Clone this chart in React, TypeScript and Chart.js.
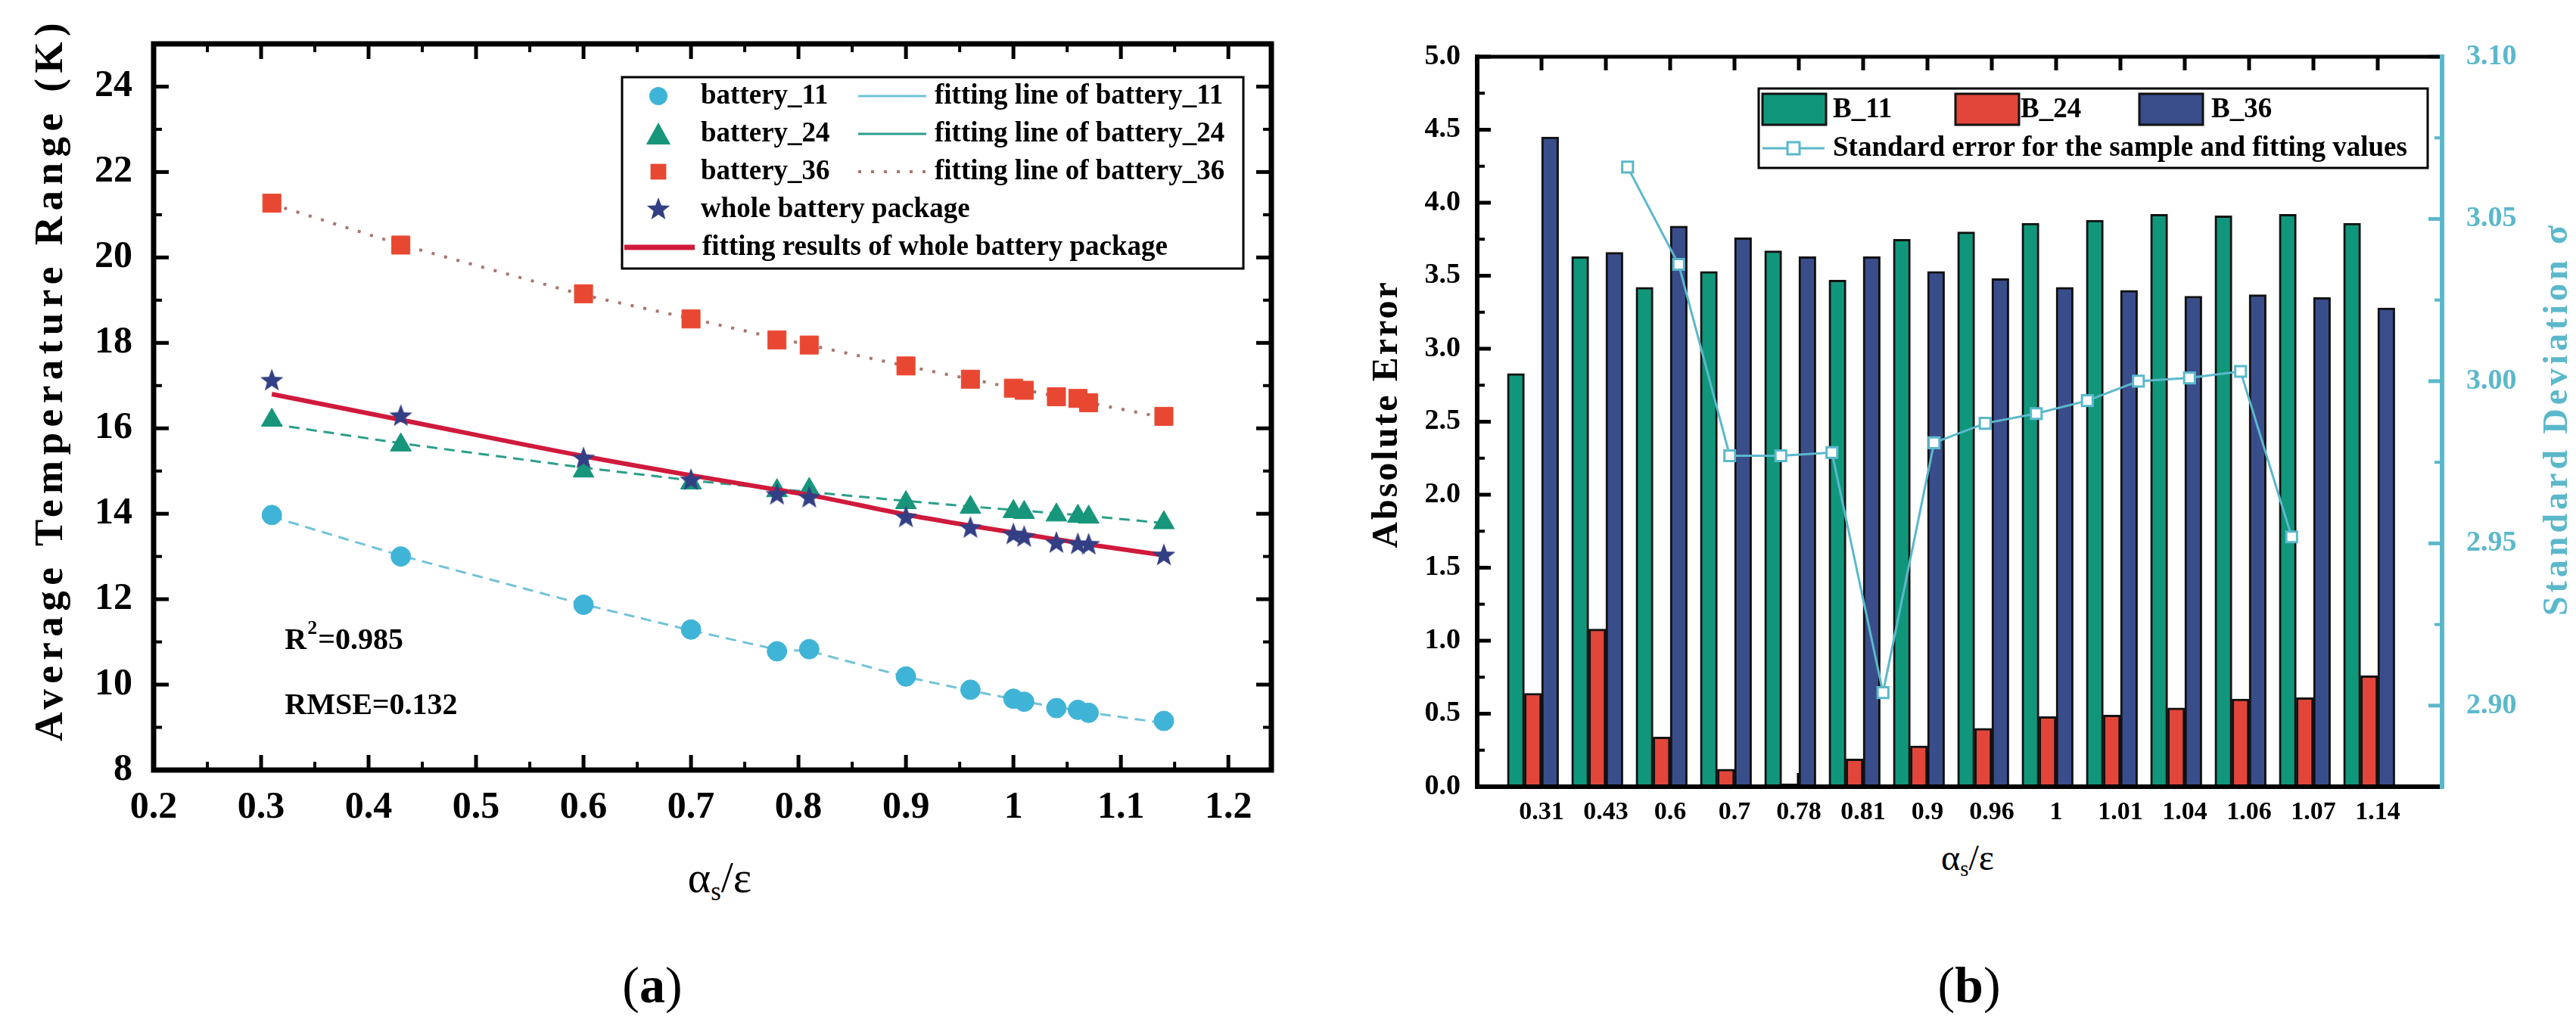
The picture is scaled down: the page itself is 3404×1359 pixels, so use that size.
import { useEffect, useRef } from "react"
import { Chart, registerables, type ChartConfiguration, type Plugin } from "chart.js"

Chart.register(...registerables)

const SERIF = '"Liberation Serif", "Times New Roman", Times, serif'
Chart.defaults.font.family = SERIF
Chart.defaults.color = "#000"

// αs/ε values shared by both panels
const alphaEps = [0.31, 0.43, 0.6, 0.7, 0.78, 0.81, 0.9, 0.96, 1, 1.01, 1.04, 1.06, 1.07, 1.14]
const alphaLabels = ["0.31", "0.43", "0.6", "0.7", "0.78", "0.81", "0.9", "0.96", "1", "1.01", "1.04", "1.06", "1.07", "1.14"]

// (a) average temperature range (K)
const battery11 = [13.97, 13.0, 11.87, 11.29, 10.78, 10.83, 10.19, 9.88, 9.67, 9.6, 9.45, 9.41, 9.34, 9.15]
const battery24 = [16.19, 15.61, 15.0, 14.72, 14.54, 14.57, 14.26, 14.15, 14.05, 14.03, 13.97, 13.94, 13.92, 13.79]
const battery36 = [21.27, 20.29, 19.15, 18.56, 18.07, 17.95, 17.46, 17.15, 16.94, 16.89, 16.74, 16.7, 16.6, 16.28]
const wholePack = [17.14, 16.31, 15.32, 14.81, 14.47, 14.4, 13.94, 13.69, 13.54, 13.48, 13.34, 13.31, 13.3, 13.05]
const fit11 = [13.93, 13.02, 11.88, 11.27, 10.82, 10.79, 10.18, 9.86, 9.66, 9.61, 9.47, 9.4, 9.35, 9.1]
const fit24 = [16.1, 15.65, 15.08, 14.78, 14.58, 14.51, 14.3, 14.17, 14.09, 14.07, 14.01, 13.97, 13.95, 13.78]
const fit36 = [21.25, 20.3, 19.12, 18.57, 18.11, 17.95, 17.46, 17.15, 16.95, 16.9, 16.75, 16.65, 16.6, 16.25]
const wholeFit = [16.8, 16.2, 15.35, 14.9, 14.56, 14.44, 13.98, 13.72, 13.56, 13.52, 13.4, 13.32, 13.28, 13.03]
const xTicksA = [0.2, 0.3, 0.4, 0.5, 0.6, 0.7, 0.8, 0.9, 1, 1.1, 1.2]
const yTicksA = [8, 10, 12, 14, 16, 18, 20, 22, 24]

// (b) absolute error per battery and standard deviation
const absErr11 = [2.83, 3.63, 3.42, 3.53, 3.67, 3.47, 3.75, 3.8, 3.86, 3.88, 3.92, 3.91, 3.92, 3.86]
const absErr24 = [0.64, 1.08, 0.34, 0.12, 0.02, 0.19, 0.28, 0.4, 0.48, 0.49, 0.54, 0.6, 0.61, 0.76]
const absErr36 = [4.45, 3.66, 3.84, 3.76, 3.63, 3.63, 3.53, 3.48, 3.42, 3.4, 3.36, 3.37, 3.35, 3.28]
const stdError = [3.066, 3.036, 2.977, 2.977, 2.978, 2.904, 2.981, 2.987, 2.99, 2.994, 3.0, 3.001, 3.003, 2.952]
const yTicksB = [0, 0.5, 1, 1.5, 2, 2.5, 3, 3.5, 4, 4.5, 5]
const y1TicksB = [2.9, 2.95, 3.0, 3.05, 3.1]

const C11 = "#40B4D6"
const C24 = "#17967C"
const C36 = "#E84832"
const CWHOLE = "#333F84"
const CFIT11 = "#72C3D8"
const CFIT24 = "#2C9E8A"
const CFIT36 = "#A8776E"
const CRED = "#D01A3C"
const BAR11 = "#10977B"
const BAR24 = "#E2463A"
const BAR36 = "#394D8B"
const CYAN = "#5BB8CB"

const pts = (ys: number[]) => ys.map((y, i) => ({ x: alphaEps[i], y }))
const mids = (v: number[]) => v.slice(1).map((b, i) => (v[i] + b) / 2)

function starPath(ctx: CanvasRenderingContext2D, cx: number, cy: number, r: number) {
  ctx.beginPath()
  for (let i = 0; i < 10; i++) {
    const rr = i % 2 === 0 ? r : r * 0.42
    const ang = -Math.PI / 2 + (i * Math.PI) / 5
    const px = cx + rr * Math.cos(ang)
    const py = cy + rr * Math.sin(ang)
    if (i === 0) ctx.moveTo(px, py)
    else ctx.lineTo(px, py)
  }
  ctx.closePath()
}

function starImage(size: number, color: string) {
  const c = document.createElement("canvas")
  c.width = size
  c.height = size
  const g = c.getContext("2d")!
  starPath(g, size / 2, size / 2 + size * 0.05, size / 2)
  g.fillStyle = color
  g.fill()
  return c
}

function marker(ctx: CanvasRenderingContext2D, kind: string, cx: number, cy: number, r: number, color: string) {
  ctx.beginPath()
  if (kind === "circle") ctx.arc(cx, cy, r, 0, Math.PI * 2)
  else if (kind === "triangle") {
    ctx.moveTo(cx, cy - r)
    ctx.lineTo(cx + r * 0.95, cy + r * 0.7)
    ctx.lineTo(cx - r * 0.95, cy + r * 0.7)
    ctx.closePath()
  } else if (kind === "rect") ctx.rect(cx - r * 0.8, cy - r * 0.8, r * 1.6, r * 1.6)
  else starPath(ctx, cx, cy, r)
  ctx.fillStyle = color
  ctx.fill()
}

function seg(ctx: CanvasRenderingContext2D, x1: number, y1: number, x2: number, y2: number, w: number, color: string, dash: number[] = []) {
  ctx.beginPath()
  ctx.setLineDash(dash)
  ctx.lineWidth = w
  ctx.strokeStyle = color
  ctx.moveTo(x1, y1)
  ctx.lineTo(x2, y2)
  ctx.stroke()
  ctx.setLineDash([])
}

function vText(ctx: CanvasRenderingContext2D, text: string, cx: number, cy: number, font: string, color: string, spacing: number) {
  ctx.save()
  ctx.translate(cx, cy)
  ctx.rotate(-Math.PI / 2)
  ctx.font = font
  ctx.fillStyle = color
  ;(ctx as any).letterSpacing = spacing + "px"
  ctx.textAlign = "center"
  ctx.textBaseline = "middle"
  ctx.fillText(text, spacing / 2, 0)
  ctx.restore()
}

// frame, inward ticks, legend and texts of panel (a)
const panelA: Plugin<"scatter"> = {
  id: "panelA",
  afterDraw(chart) {
    const { ctx, chartArea: a } = chart
    const sx = chart.scales.x
    const sy = chart.scales.y
    ctx.save()
    xTicksA.forEach((v) => {
      const p = sx.getPixelForValue(v)
      seg(ctx, p, a.bottom, p, a.bottom - 20, 5, "#000")
      seg(ctx, p, a.top, p, a.top + 20, 5, "#000")
    })
    mids(xTicksA).forEach((v) => {
      const p = sx.getPixelForValue(v)
      seg(ctx, p, a.bottom, p, a.bottom - 11, 4, "#000")
      seg(ctx, p, a.top, p, a.top + 11, 4, "#000")
    })
    yTicksA.forEach((v) => {
      const p = sy.getPixelForValue(v)
      seg(ctx, a.left, p, a.left + 20, p, 5, "#000")
      seg(ctx, a.right, p, a.right - 20, p, 5, "#000")
    })
    mids(yTicksA).forEach((v) => {
      const p = sy.getPixelForValue(v)
      seg(ctx, a.left, p, a.left + 11, p, 4, "#000")
      seg(ctx, a.right, p, a.right - 11, p, 4, "#000")
    })
    ctx.lineWidth = 7
    ctx.strokeStyle = "#000"
    ctx.strokeRect(a.left, a.top, a.right - a.left, a.bottom - a.top)

    // legend
    ctx.fillStyle = "#fff"
    ctx.fillRect(822, 102, 821, 253)
    ctx.lineWidth = 3
    ctx.strokeStyle = "#000"
    ctx.strokeRect(822, 102, 821, 253)
    const rowY = (i: number) => 127 + i * 50
    marker(ctx, "circle", 870, rowY(0), 12, C11)
    marker(ctx, "triangle", 870, rowY(1) + 2, 17, C24)
    marker(ctx, "rect", 870, rowY(2), 13, C36)
    marker(ctx, "star", 870, rowY(3), 16, CWHOLE)
    seg(ctx, 1134, rowY(0), 1224, rowY(0), 3, CFIT11)
    seg(ctx, 1134, rowY(1), 1224, rowY(1), 3, CFIT24)
    seg(ctx, 1134, rowY(2), 1224, rowY(2), 4, CFIT36, [4, 13])
    seg(ctx, 825, rowY(4), 918, rowY(4), 7, CRED)
    ctx.font = `bold 37px ${SERIF}`
    ctx.fillStyle = "#000"
    ctx.textAlign = "left"
    ctx.textBaseline = "middle"
    ctx.fillText("battery_11", 926, rowY(0))
    ctx.fillText("battery_24", 926, rowY(1))
    ctx.fillText("battery_36", 926, rowY(2))
    ctx.fillText("whole battery package", 926, rowY(3))
    ctx.fillText("fitting results of whole battery package", 928, rowY(4))
    ctx.fillText("fitting line of battery_11", 1235, rowY(0))
    ctx.fillText("fitting line of battery_24", 1235, rowY(1))
    ctx.fillText("fitting line of battery_36", 1235, rowY(2))

    // fit statistics
    ctx.textBaseline = "alphabetic"
    const tx = sx.getPixelForValue(0.322)
    const ty = sy.getPixelForValue(10.83)
    ctx.font = `bold 40px ${SERIF}`
    ctx.fillText("R", tx, ty)
    const wR = ctx.measureText("R").width
    ctx.font = `bold 26px ${SERIF}`
    ctx.fillText("2", tx + wR + 1, ty - 20)
    const w2 = ctx.measureText("2").width
    ctx.font = `bold 40px ${SERIF}`
    ctx.fillText("=0.985", tx + wR + w2 + 2, ty)
    ctx.fillText("RMSE=0.132", tx, sy.getPixelForValue(9.31))

    vText(ctx, "Average Temperature Range (K)", 68, 505, `bold 53px ${SERIF}`, "#000", 7.5)
    ctx.restore()
  },
}

// ticks, frame, legend and axis titles of panel (b)
const panelB: Plugin<"bar"> = {
  id: "panelB",
  beforeDatasetsDraw(chart) {
    const { ctx, chartArea: a } = chart
    const sx = chart.scales.x
    const sy = chart.scales.y
    const sy1 = chart.scales.y1
    ctx.save()
    alphaLabels.forEach((_, i) => {
      const p = sx.getPixelForValue(i + 1)
      seg(ctx, p, a.bottom, p, a.bottom - 18, 5, "#000")
      seg(ctx, p, a.top, p, a.top + 18, 5, "#000")
    })
    yTicksB.forEach((v) => {
      const p = sy.getPixelForValue(v)
      seg(ctx, a.left, p, a.left + 18, p, 5, "#000")
    })
    mids(yTicksB).forEach((v) => {
      const p = sy.getPixelForValue(v)
      seg(ctx, a.left, p, a.left + 10, p, 4, "#000")
    })
    y1TicksB.forEach((v) => {
      const p = sy1.getPixelForValue(v)
      seg(ctx, a.right, p, a.right - 18, p, 5, CYAN)
    })
    ;[2.875, ...mids(y1TicksB)].forEach((v) => {
      const p = sy1.getPixelForValue(v)
      seg(ctx, a.right, p, a.right - 10, p, 4, CYAN)
    })
    ctx.restore()
  },
  afterDraw(chart) {
    const { ctx, chartArea: a } = chart
    ctx.save()
    ctx.lineCap = "square"
    seg(ctx, a.left, a.top, a.right, a.top, 5, "#000")
    seg(ctx, a.left, a.bottom, a.right, a.bottom, 6, "#000")
    seg(ctx, a.left, a.top, a.left, a.bottom, 6, "#000")
    seg(ctx, a.right, a.top, a.right, a.bottom, 6, CYAN)
    ctx.lineCap = "butt"

    // legend
    ctx.fillStyle = "#fff"
    ctx.fillRect(604, 117, 884, 105)
    ctx.lineWidth = 3
    ctx.strokeStyle = "#000"
    ctx.strokeRect(604, 117, 884, 105)
    ctx.font = `bold 37px ${SERIF}`
    ctx.textAlign = "left"
    ctx.textBaseline = "middle"
    const swatches: [number, string, string, number][] = [
      [609, BAR11, "B_11", 702],
      [864, BAR24, "B_24", 950],
      [1107, BAR36, "B_36", 1202],
    ]
    swatches.forEach(([x, color, label, textX]) => {
      ctx.fillStyle = color
      ctx.fillRect(x, 124, 84, 41)
      ctx.lineWidth = 3
      ctx.strokeStyle = "#111"
      ctx.strokeRect(x, 124, 84, 41)
      ctx.fillStyle = "#000"
      ctx.fillText(label, textX, 145)
    })
    seg(ctx, 609, 196, 691, 196, 3, CYAN)
    ctx.fillStyle = "#fff"
    ctx.fillRect(642, 188, 16, 16)
    ctx.lineWidth = 3
    ctx.strokeStyle = CYAN
    ctx.strokeRect(642, 188, 16, 16)
    ctx.fillStyle = "#000"
    ctx.fillText("Standard error for the sample and fitting values", 702, 196)

    vText(ctx, "Absolute Error", 114, 549, `bold 48px ${SERIF}`, "#000", 3)
    vText(ctx, "Standard Deviation σ", 1660, 556, `bold 46px ${SERIF}`, CYAN, 5)
    ctx.restore()
  },
}

const configA = (): ChartConfiguration<"scatter"> => {
  const star = starImage(32, CWHOLE)
  return {
    type: "scatter",
    data: {
      datasets: [
        { label: "fitting line of battery_11", data: pts(fit11), showLine: true, pointRadius: 0, borderColor: CFIT11, borderWidth: 3, borderDash: [14, 9], order: 5 },
        { label: "fitting line of battery_24", data: pts(fit24), showLine: true, pointRadius: 0, borderColor: CFIT24, borderWidth: 3, borderDash: [14, 9], order: 5 },
        { label: "fitting line of battery_36", data: pts(fit36), showLine: true, pointRadius: 0, borderColor: CFIT36, borderWidth: 4, borderDash: [4, 13], order: 5 },
        { label: "battery_11", data: pts(battery11), pointStyle: "circle", pointRadius: 13, backgroundColor: C11, borderColor: C11, borderWidth: 1, order: 3 },
        { label: "battery_24", data: pts(battery24), pointStyle: "triangle", pointRadius: 16, backgroundColor: C24, borderColor: C24, borderWidth: 1, order: 3 },
        { label: "battery_36", data: pts(battery36), pointStyle: "rect", pointRadius: 17, backgroundColor: C36, borderColor: C36, borderWidth: 1, order: 3 },
        { label: "fitting results of whole battery package", data: pts(wholeFit), showLine: true, pointRadius: 0, borderColor: CRED, borderWidth: 6, tension: 0.4, cubicInterpolationMode: "monotone", order: 2 },
        { label: "whole battery package", data: pts(wholePack), pointStyle: star, pointRadius: 16, order: 1 },
      ],
    },
    options: {
      responsive: false,
      animation: false,
      devicePixelRatio: 1,
      layout: { padding: { top: 56, right: 40, bottom: 0, left: 0 } },
      plugins: { legend: { display: false }, tooltip: { enabled: false } },
      scales: {
        x: {
          type: "linear",
          min: 0.2,
          max: 1.24,
          border: { display: false },
          grid: { display: false, drawTicks: false },
          ticks: { autoSkip: false, maxRotation: 0, padding: 20, color: "#000", font: { size: 50, weight: "bold" }, callback: (v) => String(+Number(v).toFixed(2)) },
          afterBuildTicks: (s) => {
            s.ticks = xTicksA.map((value) => ({ value }))
          },
          afterFit: (s) => {
            s.height = 82
          },
        },
        y: {
          type: "linear",
          min: 8,
          max: 25,
          border: { display: false },
          grid: { display: false, drawTicks: false },
          ticks: { autoSkip: false, padding: 28, color: "#000", font: { size: 50, weight: "bold" }, callback: (v) => String(v) },
          afterBuildTicks: (s) => {
            s.ticks = yTicksA.map((value) => ({ value }))
          },
          afterFit: (s) => {
            s.width = 203
          },
        },
      },
    },
    plugins: [panelA],
  }
}

const configB = (): ChartConfiguration<"bar"> => {
  const bars = (ys: number[]) => ys.map((y, i) => ({ x: i + 1, y }))
  const barStyle = { borderColor: "#111", borderWidth: 3, barThickness: 22.6, order: 1 }
  return {
    type: "bar",
    data: {
      datasets: [
        { type: "line", label: "Standard error for the sample and fitting values", data: bars(stdError) as any, xAxisID: "xLine", yAxisID: "y1", borderColor: CYAN, borderWidth: 3, pointStyle: "rect", pointRadius: 10, pointBackgroundColor: "#fff", pointBorderColor: CYAN, pointBorderWidth: 3, order: 0 } as any,
        { label: "B_11", data: bars(absErr11) as any, backgroundColor: BAR11, ...barStyle },
        { label: "B_24", data: bars(absErr24) as any, backgroundColor: BAR24, ...barStyle },
        { label: "B_36", data: bars(absErr36) as any, backgroundColor: BAR36, ...barStyle },
      ],
    },
    options: {
      responsive: false,
      animation: false,
      devicePixelRatio: 1,
      layout: { padding: { top: 75, right: 0, bottom: 0, left: 0 } },
      plugins: { legend: { display: false }, tooltip: { enabled: false } },
      scales: {
        x: {
          type: "linear",
          min: 0,
          max: 15,
          offset: false,
          border: { display: false },
          grid: { display: false, drawTicks: false, offset: false },
          ticks: { autoSkip: false, maxRotation: 0, padding: 14, color: "#000", font: { size: 34, weight: "bold" }, callback: (v) => alphaLabels[Math.round(Number(v)) - 1] ?? "" },
          afterBuildTicks: (s) => {
            s.ticks = alphaLabels.map((_, i) => ({ value: i + 1 }))
          },
          afterFit: (s) => {
            s.height = 60
          },
        },
        xLine: { type: "linear", axis: "x", position: "bottom", display: false, min: -1, max: 16 },
        y: {
          type: "linear",
          position: "left",
          min: 0,
          max: 5,
          border: { display: false },
          grid: { display: false, drawTicks: false },
          ticks: { autoSkip: false, padding: 22, color: "#000", font: { size: 38, weight: "bold" }, callback: (v) => Number(v).toFixed(1) },
          afterBuildTicks: (s) => {
            s.ticks = yTicksB.map((value) => ({ value }))
          },
          afterFit: (s) => {
            s.width = 232
          },
        },
        y1: {
          type: "linear",
          position: "right",
          min: 2.875,
          max: 3.1,
          border: { display: false },
          grid: { display: false, drawTicks: false },
          ticks: { autoSkip: false, padding: 32, color: CYAN, font: { size: 38, weight: "bold" }, callback: (v) => Number(v).toFixed(2) },
          afterBuildTicks: (s) => {
            s.ticks = y1TicksB.map((value) => ({ value }))
          },
          afterFit: (s) => {
            s.width = 177
          },
        },
      } as any,
    },
    plugins: [panelB],
  }
}

function ChartCanvas({ make, left, width, height }: { make: () => ChartConfiguration<any>; left: number; width: number; height: number }) {
  const ref = useRef<HTMLCanvasElement>(null)
  useEffect(() => {
    if (!ref.current) return
    const chart = new Chart(ref.current, make())
    return () => chart.destroy()
  }, [])
  return <canvas ref={ref} width={width} height={height} style={{ position: "absolute", left, top: 0, width, height }} />
}

function Label({ cx, base, size, children }: { cx: number; base: number; size: number; children: any }) {
  return (
    <div
      style={{
        position: "absolute",
        left: cx,
        top: base - 0.8375 * size,
        transform: "translateX(-50%)",
        fontFamily: SERIF,
        fontSize: size,
        lineHeight: 1,
        whiteSpace: "nowrap",
        color: "#000",
      }}
    >
      {children}
    </div>
  )
}

const sub = { fontSize: "0.6em", position: "relative" as const, top: "0.3em" }

export default function App() {
  return (
    <div style={{ position: "absolute", left: 0, top: 0, width: 3404, height: 1359, background: "#fff", overflow: "hidden" }}>
      <ChartCanvas make={configA} left={0} width={1720} height={1100} />
      <ChartCanvas make={configB} left={1720} width={1684} height={1100} />
      <Label cx={951} base={1180} size={58}>
        α<span style={sub}>s</span>/ε
      </Label>
      <Label cx={2600} base={1150} size={48}>
        α<span style={sub}>s</span>/ε
      </Label>
      <Label cx={862} base={1325} size={68}>
        (<b>a</b>)
      </Label>
      <Label cx={2602} base={1325} size={68}>
        (<b>b</b>)
      </Label>
    </div>
  )
}
